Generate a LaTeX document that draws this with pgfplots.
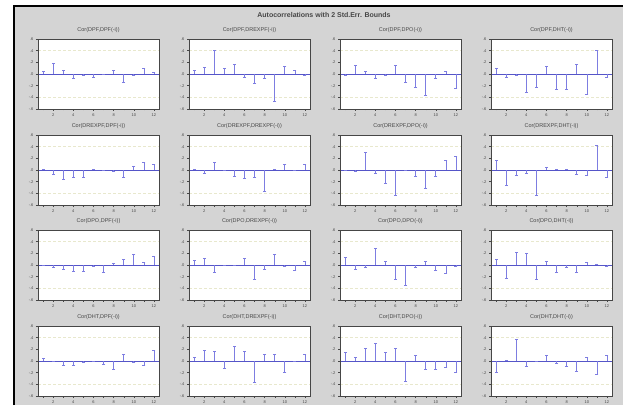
\documentclass[border=0pt]{standalone}
\usepackage{fontspec}
\setmainfont{Liberation Sans}
\usepackage{pgfplots}
\pgfplotsset{compat=1.18}
\definecolor{bg}{RGB}{212,212,212}
\definecolor{barc}{RGB}{125,125,225}
\definecolor{zeroc}{RGB}{85,85,200}
\definecolor{bnd}{RGB}{232,232,205}
\definecolor{txt}{RGB}{70,70,70}
\definecolor{frm}{RGB}{70,70,70}
\pgfplotsset{acf/.style={
  scale only axis, width=121pt, height=70pt,
  xmin=0.5, xmax=12.5, ymin=-0.6, ymax=0.6,
  axis line style={draw=frm, line width=0.8pt},
  xtick={2,4,6,8,10,12}, minor xtick={1,3,5,7,9,11},
  ytick={-0.6,-0.4,-0.2,0,0.2,0.4,0.6},
  yticklabels={-.6,-.4,-.2,.0,.2,.4,.6},
  tick align=outside, xtick pos=bottom, ytick pos=left,
  major tick length=2pt, minor tick length=1.5pt,
  every tick/.style={frm, line width=0.4pt},
  minor tick style={frm, line width=0.4pt},
  tick label style={font=\fontsize{4}{4.5}\selectfont, text=txt},
  xticklabel style={yshift=1pt}, yticklabel style={xshift=1pt},
  title style={font=\fontsize{5.5}{6}\selectfont, text=txt, inner sep=1pt, yshift=-1pt},
  anchor=south west, clip=false,
  /pgf/number format/assume math mode=true,
}}
\newcommand\panel[4]{%
\fill[white] (#1pt,#2pt) rectangle ++(121pt,70pt);
\begin{axis}[acf, at={(#1pt,#2pt)}, title={#3}]
\addplot[bnd, densely dashed, line width=0.4pt] coordinates {(0.5,0.4) (12.5,0.4)};
\addplot[bnd, densely dashed, line width=0.4pt] coordinates {(0.5,-0.4) (12.5,-0.4)};
\addplot[zeroc, line width=0.5pt] coordinates {(0.5,0) (12.5,0)};
\addplot[ycomb, barc, line width=0.6pt, mark=-, mark size=1.5pt, mark options={barc}] coordinates {#4};
\end{axis}
\draw[frm, line width=0.8pt] (#1pt,#2pt) rectangle ++(121pt,70pt);}
\begin{document}
\begin{tikzpicture}
\path[use as bounding box] (0,0) rectangle (623pt,405pt);
\fill[white] (0,0) rectangle (623pt,405pt);
\fill[bg] (14pt,0) rectangle (623pt,399pt);
\draw[black, line width=1.2pt] (14pt,0) -- (14pt,399pt) -- (623pt,399pt);
\node[font=\fontsize{7}{8}\selectfont\bfseries, text=txt] at (324pt,390pt) {Autocorrelations with 2 Std.Err. Bounds};
% Row 1
\panel{38}{296}{Cor(DPF,DPF(-i))}{(1,0.04) (2,0.18) (3,0.06) (4,-0.07) (5,-0.03) (6,-0.06) (7,-0.01) (8,0.07) (9,-0.14) (10,-0.02) (11,0.10) (12,0.03)}
\panel{189}{296}{Cor(DPF,DREXPF(-i))}{(1,0.07) (2,0.12) (3,0.40) (4,0.09) (5,0.17) (6,-0.05) (7,-0.16) (8,-0.07) (9,-0.47) (10,0.13) (11,0.06) (12,-0.03)}
\panel{340}{296}{Cor(DPF,DPO(-i))}{(1,-0.03) (2,0.15) (3,0.04) (4,-0.07) (5,-0.03) (6,0.15) (7,-0.15) (8,-0.22) (9,-0.37) (10,-0.07) (11,0.05) (12,-0.24)}
\panel{491}{296}{Cor(DPF,DHT(-i))}{(1,0.10) (2,-0.06) (3,-0.03) (4,-0.32) (5,-0.22) (6,0.13) (7,-0.26) (8,-0.26) (9,0.17) (10,-0.34) (11,0.41) (12,-0.06)}
% Row 2
\panel{38}{200}{Cor(DREXPF,DPF(-i))}{(1,0.01) (2,-0.08) (3,-0.16) (4,-0.13) (5,-0.12) (6,0.02) (7,-0.01) (8,-0.03) (9,-0.12) (10,0.06) (11,0.13) (12,0.10)}
\panel{189}{200}{Cor(DREXPF,DREXPF(-i))}{(1,0.01) (2,-0.06) (3,0.13) (4,-0.01) (5,-0.10) (6,-0.15) (7,-0.12) (8,-0.37) (9,0.01) (10,0.10) (11,-0.01) (12,0.10)}
\panel{340}{200}{Cor(DREXPF,DPO(-i))}{(1,0.00) (2,-0.03) (3,0.30) (4,-0.05) (5,-0.23) (6,-0.43) (7,-0.01) (8,-0.10) (9,-0.31) (10,-0.10) (11,0.16) (12,0.23)}
\panel{491}{200}{Cor(DREXPF,DHT(-i))}{(1,0.16) (2,-0.27) (3,-0.09) (4,-0.05) (5,-0.43) (6,0.04) (7,0.01) (8,0.01) (9,-0.08) (10,-0.09) (11,0.42) (12,-0.13)}
% Row 3
\panel{38}{105}{Cor(DPO,DPF(-i))}{(1,0.00) (2,-0.04) (3,-0.08) (4,-0.10) (5,-0.10) (6,-0.03) (7,-0.13) (8,0.03) (9,0.09) (10,0.19) (11,0.04) (12,0.15)}
\panel{189}{105}{Cor(DPO,DREXPF(-i))}{(1,0.08) (2,0.12) (3,-0.12) (4,-0.01) (5,-0.01) (6,0.12) (7,-0.25) (8,-0.08) (9,0.19) (10,-0.03) (11,-0.09) (12,0.06)}
\panel{340}{105}{Cor(DPO,DPO(-i))}{(1,0.13) (2,-0.08) (3,-0.04) (4,0.29) (5,0.06) (6,-0.25) (7,-0.35) (8,-0.04) (9,0.06) (10,-0.09) (11,-0.15) (12,-0.02)}
\panel{491}{105}{Cor(DPO,DHT(-i))}{(1,0.10) (2,-0.22) (3,0.22) (4,0.20) (5,-0.25) (6,0.06) (7,-0.12) (8,-0.04) (9,-0.13) (10,0.04) (11,0.01) (12,-0.03)}
% Row 4
\panel{38}{9}{Cor(DHT,DPF(-i))}{(1,0.05) (2,0.00) (3,-0.08) (4,-0.07) (5,-0.02) (6,0.00) (7,-0.06) (8,-0.15) (9,0.12) (10,-0.03) (11,-0.08) (12,0.18)}
\panel{189}{9}{Cor(DHT,DREXPF(-i))}{(1,0.07) (2,0.18) (3,0.16) (4,-0.12) (5,0.25) (6,0.16) (7,-0.36) (8,0.12) (9,0.11) (10,-0.20) (11,0.00) (12,0.12)}
\panel{340}{9}{Cor(DHT,DPO(-i))}{(1,0.15) (2,0.06) (3,0.22) (4,0.30) (5,0.15) (6,0.22) (7,-0.35) (8,0.09) (9,-0.15) (10,-0.15) (11,-0.10) (12,-0.20)}
\panel{491}{9}{Cor(DHT,DHT(-i))}{(1,-0.20) (2,0.01) (3,0.38) (4,-0.09) (5,0.00) (6,0.09) (7,-0.04) (8,-0.09) (9,-0.18) (10,0.07) (11,-0.22) (12,0.10)}
\end{tikzpicture}
\end{document}
